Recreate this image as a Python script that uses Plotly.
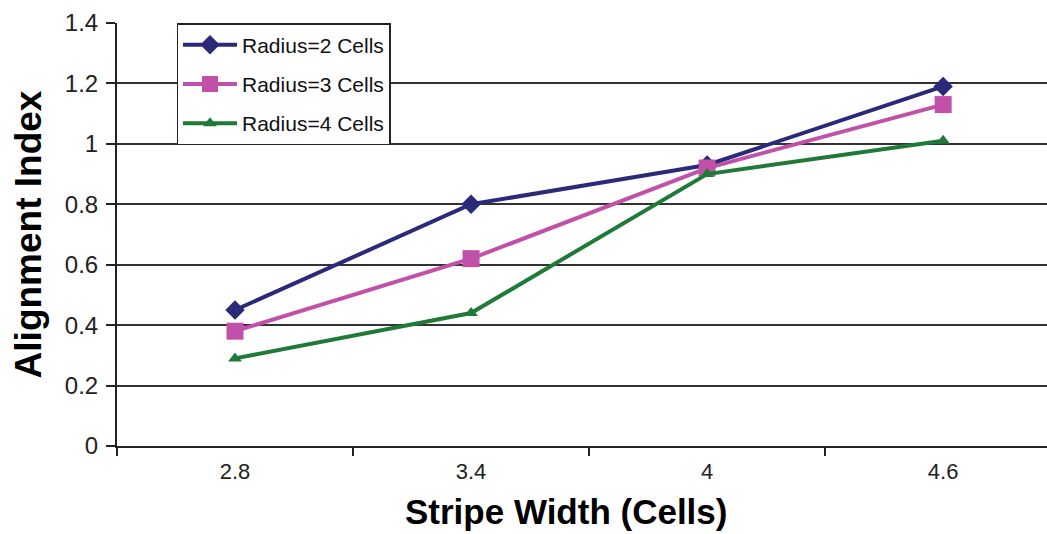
import plotly.graph_objects as go

categories = ["2.8", "3.4", "4", "4.6"]
radius2 = [0.45, 0.80, 0.93, 1.19]
radius3 = [0.38, 0.62, 0.92, 1.13]
radius4 = [0.29, 0.44, 0.90, 1.01]
names = ["Radius=2 Cells", "Radius=3 Cells", "Radius=4 Cells"]
colors = ["#2B2A7A", "#C050A8", "#1F7A3A"]
symbols = ["diamond", "square", "triangle-up"]
sizes = [15, 17, 12]
y_ticks = [0, 0.2, 0.4, 0.6, 0.8, 1.0, 1.2, 1.4]
y_ticktext = ["0", "0.2", "0.4", "0.6", "0.8", "1", "1.2", "1.4"]

fig = go.Figure()
for i, (nm, vals) in enumerate(zip(names, [radius2, radius3, radius4])):
    fig.add_trace(go.Scatter(
        x=categories, y=vals, name=nm, mode="lines+markers",
        line=dict(color=colors[i], width=4),
        marker=dict(symbol=symbols[i], size=sizes[i], color=colors[i]),
        legendgroup=f"g{i}",
    ))

fig.add_annotation(
    text="<b>Stripe Width (Cells)</b>", xref="paper", yref="paper",
    x=0.483, y=-0.2055, xanchor="center", yanchor="bottom", showarrow=False,
    font=dict(size=35, color="black"),
)

fig.update_layout(
    width=1047, height=534,
    margin=dict(l=117, r=0, t=23, b=88),
    paper_bgcolor="white", plot_bgcolor="white",
    font=dict(family="Liberation Sans, Arial, sans-serif", color="#222"),
    showlegend=True,
    legend=dict(
        x=0.064, y=1.0, xanchor="left", yanchor="top",
        bgcolor="white", bordercolor="#222", borderwidth=1.5,
        font=dict(size=21, color="#111"),
        tracegroupgap=9, itemwidth=54,
    ),
    xaxis=dict(
        type="category", range=[-0.5, 3.44],
        tickson="boundaries", ticks="outside", ticklen=8, tickcolor="#222", tickwidth=1.5,
        showline=True, linecolor="#222", linewidth=2,
        showgrid=False, zeroline=False,
        ticklabelstandoff=5,
        tickfont=dict(size=22, color="#222"),
    ),
    yaxis=dict(
        range=[0, 1.4], tickvals=y_ticks, ticktext=y_ticktext,
        ticks="outside", ticklen=9, tickcolor="#222", tickwidth=1.5,
        showline=True, linecolor="#222", linewidth=2,
        showgrid=True, gridcolor="#333", gridwidth=1.5,
        zeroline=False,
        ticklabelstandoff=3,
        tickfont=dict(size=24, color="#222"),
        title=dict(text="<b>Alignment Index</b>", font=dict(size=37, color="black"), standoff=12),
    ),
)

fig.write_html("out.html")
